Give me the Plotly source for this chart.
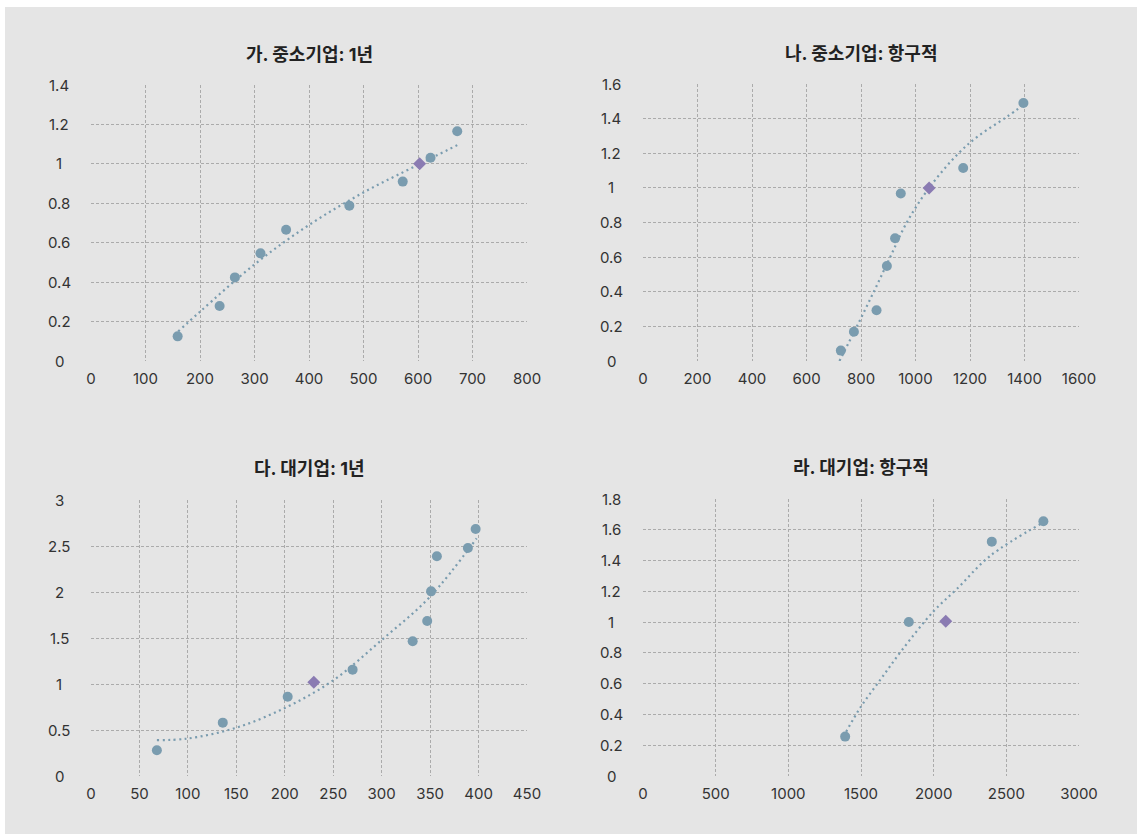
import plotly.graph_objects as go

W, H = 1137, 834
FONT = "Inter, 'Noto Sans CJK KR', sans-serif"
PT_COLOR = "#7a9caf"
DIA_COLOR = "#8a7bb2"

# ---------- data ----------
titles = ["가. 중소기업: 1년", "나. 중소기업: 항구적", "다. 대기업: 1년", "라. 대기업: 항구적"]

# panel 가
a_x = [159, 236, 264, 311, 358, 474, 572, 623, 672]
a_y = [0.125, 0.279, 0.424, 0.546, 0.666, 0.788, 0.910, 1.031, 1.165]
a_dx = [603]
a_dy = [1.0]
a_tx = [160, 200, 300, 400, 500, 600, 672]
a_ty = [0.15, 0.25, 0.49, 0.69, 0.855, 0.995, 1.095]
a_xticks = [0, 100, 200, 300, 400, 500, 600, 700, 800]
a_yticks = [0, 0.2, 0.4, 0.6, 0.8, 1, 1.2, 1.4]

# panel 나
b_x = [726, 774, 857, 895, 925, 946, 1175, 1396]
b_y = [0.060, 0.169, 0.293, 0.549, 0.709, 0.968, 1.115, 1.490]
b_dx = [1050]
b_dy = [1.0]
b_tx = [721, 785, 850, 907, 968, 1050, 1158, 1231, 1335, 1396]
b_ty = [0.0, 0.2, 0.41, 0.6, 0.8, 1.0, 1.2, 1.30, 1.41, 1.479]
b_xticks = [0, 200, 400, 600, 800, 1000, 1200, 1400, 1600]
b_yticks = [0, 0.2, 0.4, 0.6, 0.8, 1, 1.2, 1.4, 1.6]

# panel 다
c_x = [68, 136, 203, 270, 332, 347, 351, 357, 389, 397]
c_y = [0.279, 0.580, 0.862, 1.156, 1.464, 1.685, 2.007, 2.388, 2.478, 2.685]
c_dx = [230]
c_dy = [1.018]
c_tx = [68, 99, 150, 203, 250, 300, 350, 398]
c_ty = [0.39, 0.406, 0.525, 0.754, 1.04, 1.478, 1.949, 2.583]
c_xticks = [0, 50, 100, 150, 200, 250, 300, 350, 400, 450]
c_yticks = [0, 0.5, 1, 1.5, 2, 2.5, 3]

# panel 라
d_x = [1391, 1829, 2400, 2755]
d_y = [0.256, 1.001, 1.523, 1.655]
d_dx = [2083]
d_dy = [1.005]
d_tx = [1398, 1499, 1632, 1781, 1999, 2159, 2388, 2740]
d_ty = [0.288, 0.45, 0.624, 0.817, 1.07, 1.215, 1.43, 1.64]
d_xticks = [0, 500, 1000, 1500, 2000, 2500, 3000]
d_yticks = [0, 0.2, 0.4, 0.6, 0.8, 1, 1.2, 1.4, 1.6, 1.8]

panels = [
    (a_x, a_y, a_dx, a_dy, a_tx, a_ty, a_xticks, a_yticks),
    (b_x, b_y, b_dx, b_dy, b_tx, b_ty, b_xticks, b_yticks),
    (c_x, c_y, c_dx, c_dy, c_tx, c_ty, c_xticks, c_yticks),
    (d_x, d_y, d_dx, d_dy, d_tx, d_ty, d_xticks, d_yticks),
]

# plot-area pixel boxes (left, right, top, bottom)
boxes = [(91, 527, 85, 361), (643, 1079, 84, 361), (91, 527, 500, 776), (643, 1079, 499, 776)]

fig = go.Figure()
annotations = []
for i, (px, py, dx, dy, tx, ty, xt, yt) in enumerate(panels):
    n = "" if i == 0 else str(i + 1)
    xa, ya = "x" + n, "y" + n
    fig.add_trace(go.Scatter(x=tx, y=ty, mode="lines", xaxis=xa, yaxis=ya,
                             line=dict(color=PT_COLOR, width=2.2, dash="2px,3.5px", shape="spline", smoothing=1.0),
                             hoverinfo="skip"))
    fig.add_trace(go.Scatter(x=px, y=py, mode="markers", xaxis=xa, yaxis=ya,
                             marker=dict(color=PT_COLOR, size=10, line=dict(width=0))))
    fig.add_trace(go.Scatter(x=dx, y=dy, mode="markers", xaxis=xa, yaxis=ya,
                             marker=dict(color=DIA_COLOR, size=10, symbol="diamond", line=dict(width=0))))
    l, r, t, b = boxes[i]
    axcommon = dict(showgrid=True, gridcolor="#ababab", griddash="3px,2px", gridwidth=1,
                    zeroline=False, showline=False)
    fig.layout["xaxis" + n] = dict(domain=[l / W, r / W], anchor=ya, range=[xt[0], xt[-1]],
                                  tickvals=xt, ticktext=[str(v) for v in xt],
                                  ticks="outside", ticklen=4, tickcolor="rgba(0,0,0,0)",
                                  tickfont=dict(family=FONT, size=15, color="#333333"), **axcommon)
    fig.layout["yaxis" + n] = dict(domain=[1 - b / H, 1 - t / H], anchor=xa, range=[yt[0], yt[-1]],
                                  tickvals=yt, showticklabels=False, **axcommon)
    for v in yt:
        annotations.append(dict(x=(l - 32) / W, xref="paper", y=v, yref=ya, text=f"{v:g}",
                                showarrow=False, xanchor="center", yanchor="middle",
                                font=dict(family=FONT, size=15, color="#333333")))
    annotations.append(dict(x=(l + r) / 2 / W, xref="paper", y=1 - (t - 31) / H, yref="paper",
                            text=titles[i], showarrow=False, xanchor="center", yanchor="middle",
                            font=dict(family=FONT, size=18, color="#222222", weight=700)))

fig.update_layout(
    width=W, height=H, autosize=False,
    margin=dict(l=0, r=0, t=0, b=0, autoexpand=False),
    paper_bgcolor="white", plot_bgcolor="white",
    showlegend=False,
    annotations=annotations,
    shapes=[dict(type="rect", xref="paper", yref="paper", x0=5 / W, x1=1, y0=0, y1=1 - 7 / H,
                 fillcolor="#e5e5e5", line=dict(width=0), layer="below")],
)

fig.write_html(
    "out.html",
    default_width=f"{W}px",
    default_height=f"{H}px",
    config={"displayModeBar": False, "responsive": False},
    post_script="document.documentElement.style.overflow='hidden';document.body.style.margin='0';document.body.style.overflow='hidden';",
)
